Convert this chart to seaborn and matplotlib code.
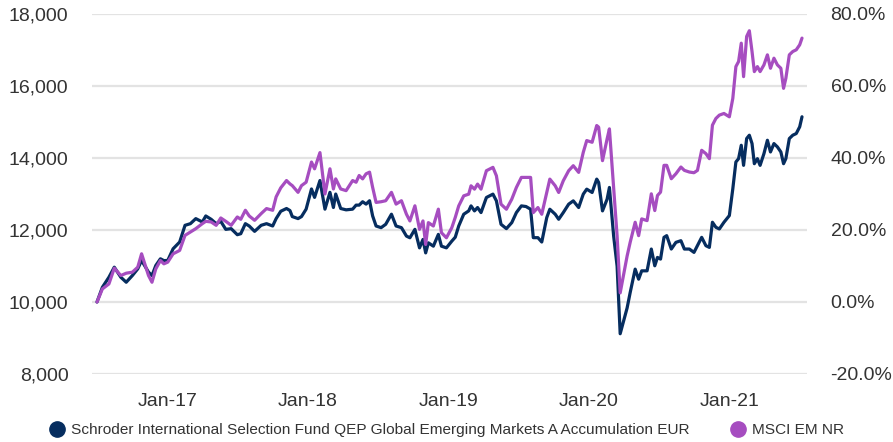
import pandas as pd
import matplotlib
matplotlib.use("Agg")
import matplotlib.pyplot as plt
import matplotlib.dates as mdates
from matplotlib.ticker import FuncFormatter, PercentFormatter
from matplotlib.lines import Line2D
import seaborn as sns

# values (growth of 10,000)
FUND = "Schroder International Selection Fund QEP Global Emerging Markets A Accumulation EUR"
INDEX = "MSCI EM NR"

dates = [
    # 2016
    "2016-07-01", "2016-07-15", "2016-08-01", "2016-08-15", "2016-09-01", "2016-09-15",
    "2016-10-01", "2016-10-15", "2016-10-25", "2016-11-12", "2016-11-21", "2016-12-01",
    "2016-12-13", "2016-12-22",
    # 2017
    "2017-01-01", "2017-01-15", "2017-02-01", "2017-02-15", "2017-03-01", "2017-03-15",
    "2017-04-01", "2017-04-10", "2017-04-24", "2017-05-07", "2017-05-19", "2017-06-01",
    "2017-06-15", "2017-07-01", "2017-07-10", "2017-07-22", "2017-08-01", "2017-08-15",
    "2017-09-01", "2017-09-15", "2017-10-01", "2017-10-10", "2017-10-22", "2017-11-06",
    "2017-11-15", "2017-11-21", "2017-12-06", "2017-12-15", "2017-12-27",
    # 2018
    "2018-01-10", "2018-01-18", "2018-02-01", "2018-02-14", "2018-02-27", "2018-03-08",
    "2018-03-14", "2018-03-27", "2018-04-10", "2018-04-27", "2018-05-06", "2018-05-14",
    "2018-05-23", "2018-06-01", "2018-06-10", "2018-06-18", "2018-06-27", "2018-07-10",
    "2018-07-22", "2018-08-06", "2018-08-18", "2018-09-01", "2018-09-14", "2018-09-23",
    "2018-10-06", "2018-10-18", "2018-10-27", "2018-11-03", "2018-11-10", "2018-11-23",
    "2018-12-06", "2018-12-14", "2018-12-27",
    # 2019
    "2019-01-10", "2019-01-19", "2019-01-28", "2019-02-10", "2019-02-23", "2019-03-01",
    "2019-03-10", "2019-03-18", "2019-03-27", "2019-04-10", "2019-04-27", "2019-05-06",
    "2019-05-18", "2019-06-01", "2019-06-15", "2019-06-27", "2019-07-10", "2019-07-22",
    "2019-08-03", "2019-08-10", "2019-08-22", "2019-09-01", "2019-09-14", "2019-09-22",
    "2019-10-06", "2019-10-15", "2019-10-27", "2019-11-10", "2019-11-22", "2019-12-06",
    "2019-12-18", "2019-12-27",
    # 2020
    "2020-01-10", "2020-01-22", "2020-01-27", "2020-02-06", "2020-02-18", "2020-02-24",
    "2020-03-06", "2020-03-15", "2020-03-23", "2020-04-10", "2020-04-18", "2020-05-01",
    "2020-05-10", "2020-05-18", "2020-06-01", "2020-06-12", "2020-06-21", "2020-06-28",
    "2020-07-06", "2020-07-15", "2020-07-22", "2020-08-03", "2020-08-15", "2020-08-28",
    "2020-09-06", "2020-09-19", "2020-10-01", "2020-10-10", "2020-10-21", "2020-11-01",
    "2020-11-10", "2020-11-18", "2020-11-27", "2020-12-06", "2020-12-18",
    # 2021
    "2021-01-01", "2021-01-10", "2021-01-18", "2021-01-25", "2021-02-01", "2021-02-07",
    "2021-02-15", "2021-02-22", "2021-03-01", "2021-03-07", "2021-03-15", "2021-03-22",
    "2021-04-01", "2021-04-10", "2021-04-18", "2021-04-27", "2021-05-06", "2021-05-15",
    "2021-05-22", "2021-05-28", "2021-06-06", "2021-06-15", "2021-06-24", "2021-07-03",
    "2021-07-09",
]

fund = [
    # 2016
    10000, 10409, 10688, 10967, 10688, 10549,
    10735, 10921, 11153, 10830, 10735, 11014,
    11200, 11150,
    # 2017
    11153, 11479, 11665, 12130, 12176, 12316,
    12223, 12390, 12297, 12176, 12241, 12018,
    12037, 11869, 11897, 12176, 12111, 11962,
    12130, 12176, 12111, 12316, 12520, 12597,
    12540, 12373, 12317, 12373, 12579,
    # 2018
    13140, 12906, 13374, 12579, 13046, 12625,
    12999, 12597, 12560, 12579, 12691, 12691,
    12785, 12719, 12813, 12392, 12111, 12065,
    12158, 12439, 12111, 12065, 11831, 11784,
    12018, 11504, 11738, 11364, 11644, 11551,
    11878, 11551, 11504,
    # 2019
    11691, 11800, 12112, 12438, 12531, 12670,
    12531, 12624, 12484, 12903, 12996, 12810,
    12159, 12038, 12205, 12484, 12670, 12652,
    12577, 11787, 11787, 11666, 12345, 12577,
    12438, 12298, 12484, 12717, 12810, 12624,
    12996, 13135,
    # 2020
    13042, 13414, 13321, 12531, 12856, 13182,
    11833, 10996, 9118, 9833, 10262, 10913,
    10634, 10866, 10866, 11471, 11006, 11238,
    11192, 11796, 11843, 11471, 11657, 11703,
    11471, 11471, 11378, 11564, 11796, 11564,
    11517, 12215, 12075, 12029, 12215,
    # 2021
    12401, 13145, 13889, 13982, 14354, 13796,
    14540, 14633, 14401, 13842, 13982, 13796,
    14121, 14493, 14168, 14401, 14308, 14168,
    13842, 13982, 14540, 14633, 14679, 14866,
    15145,
]

index = [
    # 2016
    10000, 10363, 10502, 10940, 10735, 10800,
    10828, 10967, 11339, 10735, 10549, 10921,
    11153, 11060,
    # 2017
    11107, 11339, 11432, 11851, 11944, 12037,
    12176, 12241, 12223, 12130, 12334, 12241,
    12130, 12362, 12297, 12548, 12390, 12269,
    12455, 12595, 12548, 12920, 13171, 13374,
    13280, 13233, 13046, 13233, 13327,
    # 2018
    13888, 13700, 14150, 13000, 13700, 13140,
    13420, 13140, 13093, 13374, 13327, 13514,
    13420, 13561, 13607, 13187, 12766, 12785,
    12813, 13046, 12719, 12813, 12439, 12252,
    12672, 12018, 12252, 11598, 12205, 12111,
    12579, 11925, 11784,
    # 2019
    12065, 12350, 12670, 12949, 12996, 13228,
    13135, 13275, 13135, 13647, 13740, 13507,
    12717, 12577, 12856, 13182, 13461, 13461,
    13461, 12484, 12624, 12438, 13042, 13414,
    13228, 13042, 13368, 13647, 13786, 13600,
    14158, 14484,
    # 2020
    14437, 14902, 14856, 13926, 14530, 14809,
    13182, 11833, 10252, 11275, 11657, 12215,
    11843, 12308, 12261, 13005, 12540, 12959,
    13052, 13796, 13796, 13424, 13563, 13749,
    13656, 13610, 13591, 13656, 14214, 14121,
    13982, 14912, 15098, 15191, 15237,
    # 2021
    15144, 15656, 16539, 16679, 17190, 16260,
    17376, 17535, 16958, 16400, 16539, 16400,
    16586, 16865, 16493, 16772, 16586, 16493,
    15935, 16214, 16865, 16958, 17005, 17144,
    17330,
]

colors = {FUND: "#062d5f", INDEX: "#a64dc0"}
text_color = "#333333"

sns.set_theme(style="white")
plt.rcParams["font.family"] = ["Liberation Sans", "DejaVu Sans"]
plt.rcParams["axes.unicode_minus"] = False

df = pd.DataFrame({"date": pd.to_datetime(dates), FUND: fund, INDEX: index})
df = df.melt(id_vars="date", var_name="series", value_name="value")

fig = plt.figure(figsize=(8.93, 4.42), dpi=100)
ax = fig.add_axes([92 / 893, 1 - 374 / 442, (807 - 92) / 893, (374 - 14) / 442])

# fund first so the index line sits on top, as in the reference
sns.lineplot(data=df, x="date", y="value", hue="series", hue_order=[FUND, INDEX],
             palette=colors, linewidth=2.3, ax=ax, legend=False)

ax.set_ylim(8000, 18000)
ax.set_yticks(range(8000, 18001, 2000))
ax.yaxis.set_major_formatter(FuncFormatter(lambda v, p: f"{v:,.0f}"))
ax.set_xlim(pd.Timestamp("2016-06-18"), pd.Timestamp("2021-07-22"))
ax.xaxis.set_major_locator(mdates.YearLocator())
ax.xaxis.set_major_formatter(mdates.DateFormatter("%b-%y"))
ax.grid(axis="y", color="#e3e3e3", linewidth=1.6)
ax.grid(axis="x", visible=False)
ax.set(xlabel=None, ylabel=None)
ax.tick_params(length=0, labelsize=14, labelcolor=text_color)
ax.tick_params(axis="y", pad=17)
ax.tick_params(axis="x", pad=14)
for s in ax.spines.values():
    s.set_visible(False)

ax2 = ax.twinx()
ax2.set_ylim(-0.2, 0.8)
ax2.set_yticks([-0.2, 0.0, 0.2, 0.4, 0.6, 0.8])
ax2.yaxis.set_major_formatter(PercentFormatter(1.0, decimals=1))
ax2.grid(False)
ax2.tick_params(length=0, labelsize=14, labelcolor=text_color, pad=17)
for s in ax2.spines.values():
    s.set_visible(False)

handles = [Line2D([], [], linestyle="none", marker="o", markersize=11,
                  color=colors[name]) for name in (FUND, INDEX)]
fig.legend(handles, [FUND, INDEX], loc="center", bbox_to_anchor=(0.5, 1 - 430 / 442),
           ncol=2, frameon=False, fontsize=11.1, labelcolor=text_color,
           handletextpad=0.45, columnspacing=2.6, handlelength=1.0)

fig.savefig("out.png", dpi=100)
